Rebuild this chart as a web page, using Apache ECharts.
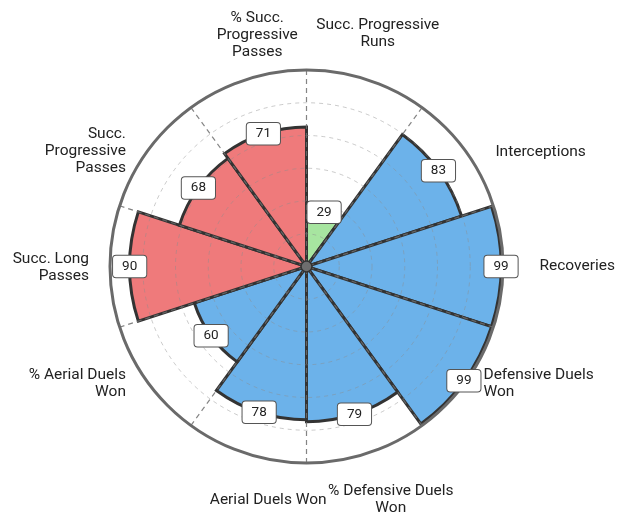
<!DOCTYPE html>
<html>
<head>
<meta charset="utf-8">
<script src="https://cdn.jsdelivr.net/npm/echarts@6/dist/echarts.min.js"></script>
<style>
  html, body { margin: 0; padding: 0; background: #fff; }
</style>
</head>
<body>
<div id="container" style="width: 630px; height: 514px;"></div>
<script>
    // categories clockwise from 12 o'clock
    var categories = [
        'Succ. Progressive\nRuns',
        'Interceptions',
        'Recoveries',
        'Defensive Duels\nWon',
        '% Defensive Duels\nWon',
        'Aerial Duels Won',
        '% Aerial Duels\nWon',
        'Succ. Long\nPasses',
        'Succ.\nProgressive\nPasses',
        '% Succ.\nProgressive\nPasses'
    ];
    var values = [29, 83, 99, 99, 79, 78, 60, 90, 68, 71];
    var groups = ['run', 'def', 'def', 'def', 'def', 'def', 'def', 'pass', 'pass', 'pass'];
    var groupColors = { run: '#a7e5a0', def: '#6cb2ea', pass: '#ef7a7b' };

    // label look: line alignment + small nudges so names sit like the original
    var labelAlign = ['c', 'l', 'l', 'l', 'c', 'c', 'r', 'r', 'r', 'c'];
    var labelNudge = [[-4, -1], [37, 29], [27, 0], [35, -26], [9, 1],
                      [37, 2], [-32, -26], [-12, 1], [-24, 28], [26, 0]];
    var labelRadius = 124;

    var myChart = echarts.init(document.getElementById('container'));

    var barData = values.map(function (v, i) {
        return { value: v, itemStyle: { color: groupColors[groups[i]] } };
    });
    var valueLabels = values.map(function (v, i) {
        return [v, i];
    });
    var nameLabels = categories.map(function (c, i) {
        var tag = labelAlign[i];
        return {
            value: [labelRadius, i],
            label: {
                offset: labelNudge[i],
                formatter: c.split('\n').map(function (s) {
                    return '{' + tag + '|' + s + '}';
                }).join('\n')
            }
        };
    });
    var txt = { fontSize: 15.5, lineHeight: 17, color: '#222', fontFamily: 'Roboto' };

    var option = {
        animation: false,
        textStyle: { fontFamily: 'Roboto' },
        polar: {
            center: [306.5, 266.5],
            radius: 196.5
        },
        angleAxis: {
            type: 'category',
            data: categories,
            startAngle: 90,
            clockwise: true,
            z: 3,
            axisTick: { show: false },
            axisLabel: { show: false },
            axisLine: { lineStyle: { color: '#6a6a6a', width: 3 } },
            splitLine: {
                show: true,
                lineStyle: { color: 'rgba(110,110,110,0.85)', type: [5, 4], width: 1.2 }
            }
        },
        radiusAxis: {
            min: 0,
            max: 100,
            interval: 100 / 6,
            z: 3,
            axisLine: { show: false },
            axisTick: { show: false },
            axisLabel: { show: false },
            splitLine: {
                show: true,
                lineStyle: { color: 'rgba(140,140,140,0.45)', type: [4, 4], width: 1 }
            }
        },
        series: [
            {
                type: 'bar',
                coordinateSystem: 'polar',
                barCategoryGap: '0%',
                data: barData,
                z: 2,
                silent: true,
                itemStyle: { borderColor: '#333', borderWidth: 3 }
            },
            {
                type: 'scatter',
                coordinateSystem: 'polar',
                data: valueLabels,
                symbolSize: 0,
                silent: true,
                z: 6,
                itemStyle: { opacity: 1 },
                label: {
                    show: true,
                    position: 'inside',
                    formatter: function (p) { return p.value[0]; },
                    backgroundColor: '#fff',
                    borderColor: '#555',
                    borderWidth: 1,
                    borderRadius: 3,
                    padding: [3, 9, 3, 9],
                    fontSize: 13.5,
                    lineHeight: 15.5,
                    color: '#222'
                }
            },
            {
                type: 'scatter',
                coordinateSystem: 'polar',
                data: nameLabels,
                symbolSize: 0,
                silent: true,
                clip: false,
                z: 6,
                itemStyle: { opacity: 1 },
                label: {
                    show: true,
                    position: 'inside',
                    color: '#222',
                    rich: {
                        l: Object.assign({ align: 'left' }, txt),
                        c: Object.assign({ align: 'center' }, txt),
                        r: Object.assign({ align: 'right' }, txt)
                    }
                }
            },
            {
                type: 'scatter',
                coordinateSystem: 'polar',
                data: [[0, 0]],
                symbolSize: 11,
                silent: true,
                z: 7,
                itemStyle: { color: '#6e6e6e', borderColor: '#333', borderWidth: 1.5, opacity: 1 }
            }
        ]
    };

    myChart.setOption(option);
</script>
</body>
</html>
